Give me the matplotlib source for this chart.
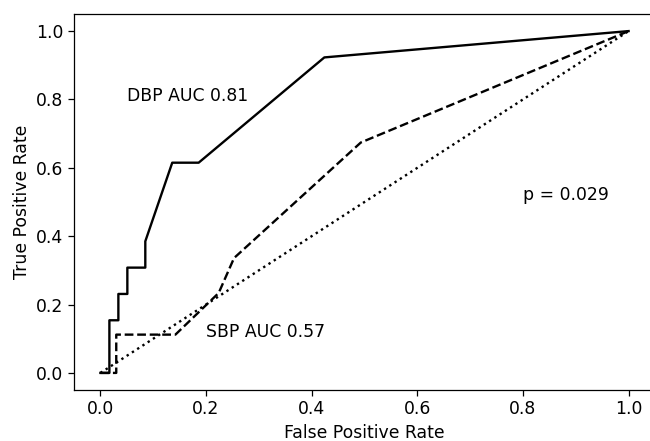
import matplotlib
matplotlib.use("Agg")
import matplotlib.pyplot as plt

# DBP ROC curve
dbp_fpr = [0.0, 0.017, 0.017, 0.034, 0.034, 0.051, 0.051, 0.085, 0.085, 0.136, 0.186, 0.424, 1.0]
dbp_tpr = [0.0, 0.0, 0.154, 0.154, 0.231, 0.231, 0.308, 0.308, 0.385, 0.615, 0.615, 0.923, 1.0]

# SBP ROC curve
sbp_fpr = [0.0, 0.030, 0.030, 0.142, 0.224, 0.253, 0.493, 1.0]
sbp_tpr = [0.0, 0.0, 0.112, 0.112, 0.234, 0.336, 0.674, 1.0]

# chance line
chance = [0.0, 1.0]

fs = 12.4
fig = plt.figure(figsize=(6.5, 4.41), dpi=100)
ax = fig.add_axes([74/650, 51/441, 581/650, 376/441])

ax.plot(dbp_fpr, dbp_tpr, color="black", linestyle="-", linewidth=1.7)
ax.plot(sbp_fpr, sbp_tpr, color="black", linestyle="--", linewidth=1.7)
ax.plot(chance, chance, color="black", linestyle=":", linewidth=1.7)

ax.text(0.05, 0.81, "DBP AUC 0.81", fontsize=fs, va="center")
ax.text(0.2, 0.12, "SBP AUC 0.57", fontsize=fs, va="center")
ax.text(0.8, 0.52, "p = 0.029", fontsize=fs, va="center")

ax.set_xlabel("False Positive Rate", fontsize=fs)
ax.set_ylabel("True Positive Rate", fontsize=fs)
ax.tick_params(labelsize=fs, length=4, width=0.9)
for s in ax.spines.values():
    s.set_linewidth(0.9)
ax.spines["right"].set_visible(False)  # cropped off in the reference
ax.set_xlim(-0.05, 1.05)
ax.set_ylim(-0.05, 1.05)

fig.savefig("out.png", dpi=100)
